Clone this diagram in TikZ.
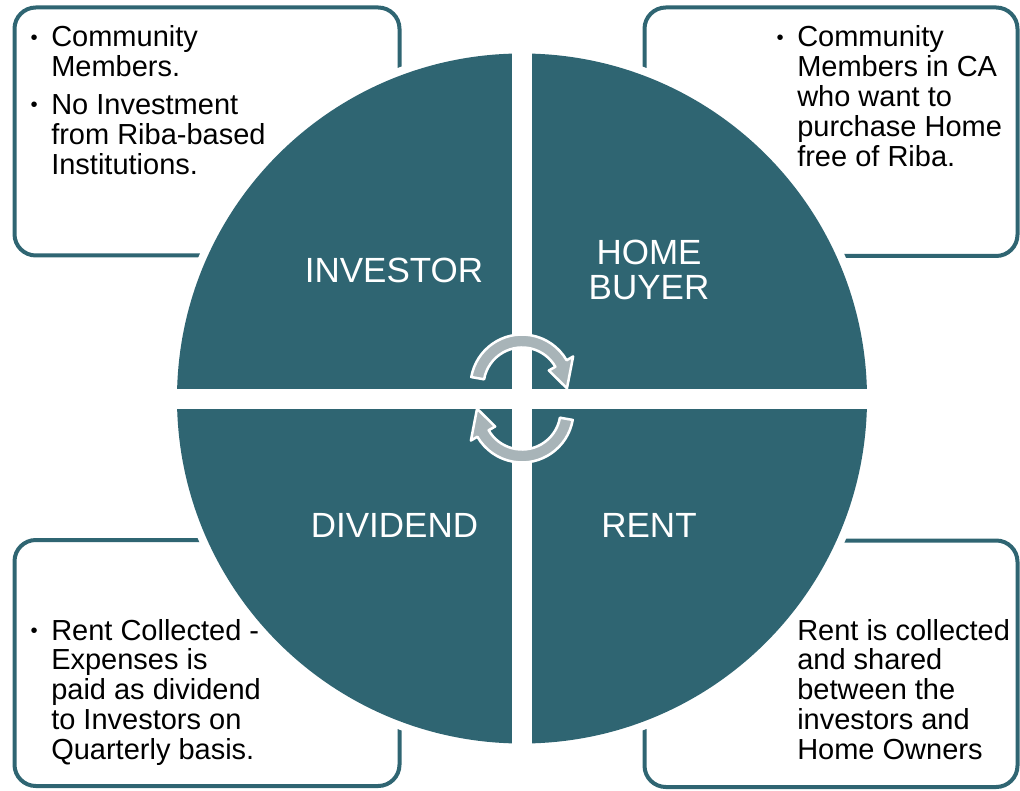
\documentclass[tikz,border=0pt]{standalone}
\usepackage{fontspec}
\setmainfont{Liberation Sans}
\definecolor{tealc}{RGB}{47,101,114}
\definecolor{arrowgray}{RGB}{168,180,184}
\newcommand{\bul}{\makebox[16.5pt][l]{\hspace{1pt}\raisebox{2.2pt}{\scalebox{0.7}{\textbullet}}}}
\begin{document}
\begin{tikzpicture}[x=0.75pt,y=0.75pt,
  infobox/.style={draw=tealc, line width=3pt, fill=white, rounded corners=16pt},
  boxtext/.style={anchor=base west, inner sep=0pt, text=black, font=\fontsize{21.75}{22.25}\selectfont},
  quadlabel/.style={anchor=base, inner sep=0pt, text=white, font=\fontsize{26.25}{26.25}\selectfont},
  cyclearrow/.style={fill=arrowgray, draw=white, line width=1.9pt, line join=round}
]
\useasboundingbox (0,0) rectangle (1020,-791);

% info boxes
\draw[infobox] (14.5,-7.5) rectangle (399.5,-255.5);
\draw[infobox] (644.5,-7.5) rectangle (1017.5,-256);
\draw[infobox] (14.5,-540) rectangle (399.5,-786);
\draw[infobox] (644.5,-540.5) rectangle (1017.5,-787);

% circle with white ring
\fill[white] (522,-398.5) circle[radius=353];
\fill[tealc] (522,-398.5) circle[radius=345];
% white cross
\fill[white] (512,-40) rectangle (532,-760);
\fill[white] (170,-389) rectangle (875,-408.5);

% cycle arrows
\path[cyclearrow, shift={(522,-386)}] (170:51.5) arc[start angle=170, end angle=30, radius=51.5]
  -- (30:59) -- (-3:45) -- (30:31) -- (30:38.5) arc[start angle=30, end angle=170, radius=38.5] -- cycle;
\begin{scope}[rotate around={180:(522,-398.5)}]
\path[cyclearrow, shift={(522,-386)}] (170:51.5) arc[start angle=170, end angle=30, radius=51.5]
  -- (30:59) -- (-3:45) -- (30:31) -- (30:38.5) arc[start angle=30, end angle=170, radius=38.5] -- cycle;
\end{scope}

% quadrant labels
\node[quadlabel] (inv) at (394,-283) {INVESTOR};
\node[quadlabel] (buyer) at (649,-265) {\begin{tabular}[t]{@{}c@{}}HOME\\BUYER\end{tabular}};
\node[quadlabel] (div) at (394.5,-537.5) {DIVIDEND};
\node[quadlabel] (rent) at (649,-537.5) {RENT};

% box texts
\node[boxtext] (tltext) at (29,-47) {\begin{tabular}[t]{@{}l@{}l@{}}
\bul & Community\\ & Members.\\[6pt]
\bul & No Investment\\ & from Riba-based\\ & Institutions.\end{tabular}};
\node[boxtext] (trtext) at (775,-47) {\begin{tabular}[t]{@{}l@{}l@{}}
\bul & Community\\ & Members in CA\\ & who want to\\ & purchase Home\\ & free of Riba.\end{tabular}};
\node[boxtext] (bltext) at (29,-640) {\begin{tabular}[t]{@{}l@{}l@{}}
\bul & Rent Collected -\\ & Expenses is\\ & paid as dividend\\ & to Investors on\\ & Quarterly basis.\end{tabular}};
\node[boxtext] (brtext) at (797,-640) {\begin{tabular}[t]{@{}l@{}}
Rent is collected\\ and shared\\ between the\\ investors and\\ Home Owners\end{tabular}};
\end{tikzpicture}
\end{document}
